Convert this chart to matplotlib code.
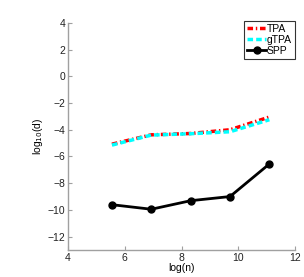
import numpy as np
import matplotlib
matplotlib.use("Agg")
from matplotlib import pyplot as plt

plt.rcParams['font.family'] = ['Liberation Sans', 'DejaVu Sans']

# log(n) for n = 256 .. 65536
logn = [5.545, 6.931, 8.318, 9.704, 11.090]
tpa = [-5.08, -4.38, -4.28, -4.00, -3.05]
gtpa = [-5.15, -4.40, -4.30, -4.15, -3.25]
spp = [-9.61, -9.95, -9.31, -9.00, -6.56]

xticks = [4, 6, 8, 10, 12]
yticks = [-12, -10, -8, -6, -4, -2, 0, 2, 4]

fig = plt.figure(figsize=(3.04, 2.77), dpi=100)
ax = fig.add_axes([0.224, 0.0975, 0.747, 0.82])

ax.plot(logn, tpa, color='red', linestyle=(0, (1.6, 0.8, 0.4, 0.8)), linewidth=2.5, label='TPA')
ax.plot(logn, gtpa, color='cyan', linestyle=(0, (1.6, 0.9)), linewidth=2.5, label='gTPA')
ax.plot(logn, spp, color='black', linestyle='-', linewidth=2, marker='o',
        markersize=5, label='SPP')

ax.set_xlim(4, 12)
ax.set_ylim(-13, 4)
ax.set_xticks(xticks)
ax.set_yticks(yticks)

for s in ['top', 'right']:
    ax.spines[s].set_visible(False)
for s in ['left', 'bottom']:
    ax.spines[s].set_color('#a0a0a0')
    ax.spines[s].set_linewidth(1.0)
ax.tick_params(direction='in', length=3, color='#a0a0a0', labelsize=7.5,
               labelcolor='#222222', pad=2)

ax.set_xlabel('log(n)', fontsize=7.5, labelpad=0)
ax.set_ylabel('log$_{10}$(d)', fontsize=7.5, labelpad=2)

leg = ax.legend(loc='upper right', bbox_to_anchor=(1.0, 1.01), fontsize=7.5,
                frameon=True, fancybox=False, edgecolor='black',
                handlelength=1.8, handletextpad=0.1, borderpad=0.3,
                labelspacing=0.1, borderaxespad=0.0)
leg.get_frame().set_linewidth(0.8)

fig.savefig('out.png', dpi=100)
